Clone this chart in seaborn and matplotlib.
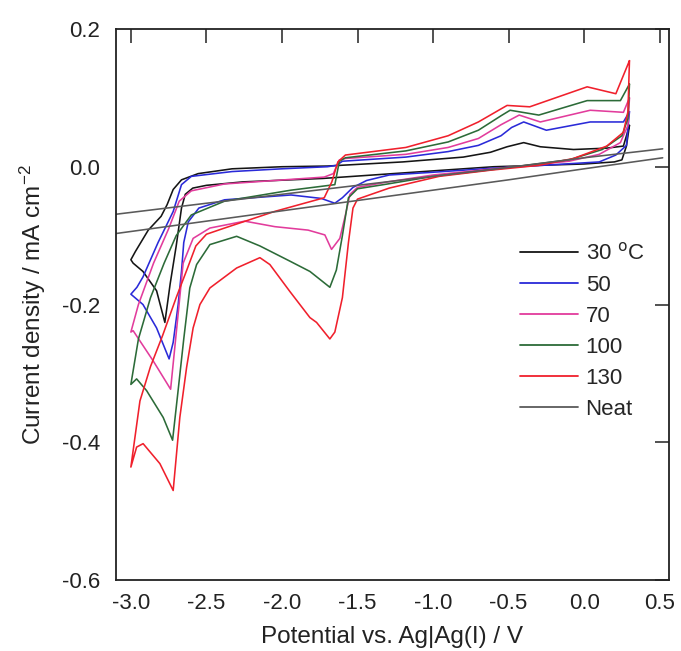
import numpy as np
import pandas as pd
import matplotlib
matplotlib.use("Agg")
import matplotlib.pyplot as plt
from matplotlib.lines import Line2D
import seaborn as sns

# ---------------- data ----------------
series_names = ["30", "50", "70", "100", "130", "Neat"]
legend_labels = ["30 $^{\\rm o}$C", "50", "70", "100", "130", "Neat"]
series_colors = ["#151515", "#2a2ad8", "#e23c9c", "#2c6b38", "#f0202c", "#5a5a5a"]

pot_30 = [0.30, 0.28, 0.25, 0.20, 0.00, -0.60, -1.20, -1.73, -2.26, -2.50, -2.59, -2.64, -2.665, -2.70, -2.74, -2.775,
          -2.83, -2.92, -2.985, -3.00,
          -2.97, -2.885, -2.80, -2.76, -2.72, -2.665, -2.555, -2.33, -2.00, -1.70, -1.20, -0.80, -0.62,
          -0.51, -0.40, -0.29, -0.07, 0.15, 0.26, 0.30]
cur_30 = [0.060, 0.030, 0.010, 0.007, 0.004, 0.000, -0.009, -0.017, -0.022, -0.027, -0.031, -0.040, -0.060, -0.115, -0.170, -0.226,
          -0.180, -0.152, -0.140, -0.135,
          -0.123, -0.092, -0.072, -0.055, -0.033, -0.019, -0.010, -0.003, 0.000, 0.001, 0.007, 0.014, 0.021,
          0.029, 0.035, 0.029, 0.025, 0.027, 0.030, 0.060]

pot_50 = [0.30, 0.28, 0.21, 0.10, -0.20, -0.60, -1.00, -1.29, -1.44, -1.53, -1.60, -1.65, -1.74, -1.94,
          -2.38, -2.55, -2.62, -2.65, -2.665, -2.687, -2.72, -2.747, -2.83, -2.92, -3.00,
          -2.96, -2.92, -2.82, -2.72, -2.665, -2.60, -2.33, -2.00, -1.70, -1.64, -1.60, -1.18, -0.90, -0.70,
          -0.55, -0.48, -0.40, -0.25, 0.04, 0.26, 0.30]
cur_50 = [0.080, 0.031, 0.017, 0.007, 0.003, -0.002, -0.008, -0.012, -0.020, -0.030, -0.045, -0.053, -0.046, -0.041,
          -0.048, -0.060, -0.080, -0.110, -0.152, -0.200, -0.255, -0.279, -0.234, -0.200, -0.185,
          -0.175, -0.160, -0.110, -0.065, -0.026, -0.014, -0.007, -0.003, 0.000, 0.002, 0.008, 0.014, 0.022, 0.031,
          0.045, 0.057, 0.065, 0.053, 0.065, 0.065, 0.080]

pot_70 = [0.30, 0.29, 0.24, 0.10, -0.10, -0.60, -1.00, -1.30, -1.50, -1.55, -1.58, -1.617, -1.672, -1.716,
          -1.827, -2.047, -2.246, -2.477, -2.588, -2.654, -2.69, -2.737, -2.852, -2.985, -3.00,
          -2.95, -2.85, -2.75, -2.68, -2.60, -2.38, -1.72, -1.66, -1.62, -1.58, -1.18, -0.90, -0.70,
          -0.55, -0.43, -0.29, 0.04, 0.26, 0.30]
cur_70 = [0.100, 0.060, 0.035, 0.018, 0.008, -0.003, -0.012, -0.022, -0.030, -0.040, -0.070, -0.104, -0.120, -0.099,
          -0.092, -0.087, -0.079, -0.089, -0.104, -0.140, -0.220, -0.323, -0.282, -0.238, -0.240,
          -0.200, -0.140, -0.090, -0.050, -0.035, -0.025, -0.015, -0.010, 0.010, 0.012, 0.018, 0.028, 0.041,
          0.061, 0.075, 0.065, 0.082, 0.079, 0.100]

pot_100 = [0.30, 0.29, 0.25, 0.12, -0.10, -0.60, -1.00, -1.30, -1.50, -1.56, -1.60, -1.64, -1.683, -1.815,
           -1.948, -2.146, -2.30, -2.477, -2.565, -2.61, -2.65, -2.69, -2.724, -2.786, -2.896, -2.962, -3.00,
           -2.95, -2.87, -2.78, -2.70, -2.60, -2.38, -1.94, -1.65, -1.62, -1.58, -1.18, -0.90, -0.70,
           -0.55, -0.49, -0.30, 0.02, 0.24, 0.30]
cur_100 = [0.120, 0.070, 0.045, 0.025, 0.010, -0.004, -0.014, -0.025, -0.032, -0.045, -0.100, -0.150, -0.175, -0.152,
           -0.137, -0.115, -0.101, -0.113, -0.142, -0.176, -0.250, -0.330, -0.397, -0.364, -0.325, -0.308, -0.316,
           -0.250, -0.190, -0.140, -0.100, -0.070, -0.050, -0.034, -0.026, 0.008, 0.013, 0.023, 0.036, 0.053,
           0.074, 0.082, 0.075, 0.096, 0.096, 0.120]

pot_130 = [0.30, 0.29, 0.26, 0.15, -0.07, -0.30, -0.62, -0.96, -1.29, -1.50, -1.53, -1.56, -1.60, -1.65,
           -1.683, -1.771, -1.815, -1.948, -2.08, -2.146, -2.30, -2.477, -2.543, -2.588, -2.631, -2.676,
           -2.72, -2.808, -2.919, -2.962, -3.00,
           -2.94, -2.87, -2.79, -2.70, -2.63, -2.57, -2.50, -2.38, -2.05, -1.72, -1.67, -1.63, -1.58,
           -1.18, -0.90, -0.70, -0.55, -0.51, -0.36, 0.02, 0.21, 0.30]
cur_130 = [0.154, 0.080, 0.050, 0.030, 0.012, 0.002, -0.005, -0.014, -0.031, -0.047, -0.060, -0.110, -0.190, -0.240,
           -0.250, -0.226, -0.219, -0.181, -0.142, -0.132, -0.147, -0.176, -0.200, -0.234, -0.291, -0.364,
           -0.470, -0.431, -0.402, -0.407, -0.436,
           -0.340, -0.290, -0.245, -0.190, -0.150, -0.115, -0.098, -0.089, -0.065, -0.045, -0.022, 0.007, 0.017,
           0.028, 0.045, 0.065, 0.084, 0.089, 0.087, 0.116, 0.106, 0.154]

neat_pot = [-3.10, -2.50, -2.00, -1.50, -1.00, -0.50, 0.00, 0.52]
neat_up_cur = [-0.069, -0.053, -0.040, -0.027, -0.014, -0.001, 0.013, 0.026]
neat_dn_cur = [-0.097, -0.079, -0.064, -0.049, -0.034, -0.019, -0.003, 0.013]

x_ticks = [-3.0, -2.5, -2.0, -1.5, -1.0, -0.5, 0.0, 0.5]
y_ticks = [-0.6, -0.4, -0.2, 0.0, 0.2]

# ---------------- long-form table ----------------
parts = [
    ("30", "30", pot_30, cur_30),
    ("50", "50", pot_50, cur_50),
    ("70", "70", pot_70, cur_70),
    ("100", "100", pot_100, cur_100),
    ("130", "130", pot_130, cur_130),
    ("Neat", "neat_up", neat_pot, neat_up_cur),
    ("Neat", "neat_dn", neat_pot, neat_dn_cur),
]
frames = []
for s, u, xs, ys in parts:
    frames.append(pd.DataFrame({"E": xs, "j": ys, "series": s, "unit": u}))
df = pd.concat(frames, ignore_index=True)

# ---------------- plot ----------------
sns.set_theme(style="white")
plt.rcParams["font.family"] = ["Liberation Sans", "DejaVu Sans"]
plt.rcParams["mathtext.default"] = "regular"

fig = plt.figure(figsize=(6.81, 6.51), dpi=100)
ax = fig.add_axes([0.170, 0.109, 0.812, 0.8465])

palette = dict(zip(series_names, series_colors))
sns.lineplot(data=df, x="E", y="j", hue="series", units="unit", estimator=None,
             sort=False, palette=palette, hue_order=series_names, legend=False,
             linewidth=1.15, ax=ax)

ax.set_xlim(-3.1, 0.56)
ax.set_ylim(-0.6, 0.2)
ax.set_xticks(x_ticks)
ax.set_yticks(y_ticks)
ax.set_xticklabels([f"{v:.1f}" for v in x_ticks])
ax.set_yticklabels([f"{v:.1f}" for v in y_ticks])
ax.tick_params(direction="in", length=10, width=1.1, top=True, right=True,
               labelsize=16, colors="#222222")
ax.tick_params(axis="y", pad=11)
ax.tick_params(axis="x", pad=9)
for sp in ax.spines.values():
    sp.set_color("#222222")
    sp.set_linewidth(1.3)

ax.set_xlabel("Potential vs. Ag|Ag(I) / V", fontsize=17.5, color="#222222", labelpad=9)
ax.set_ylabel("Current density / mA cm$^{-2}$", fontsize=17.5, color="#222222", labelpad=10)

handles = [Line2D([], [], color=c, lw=1.3) for c in series_colors]
ax.legend(handles, legend_labels, loc="upper left", bbox_to_anchor=(0.715, 0.628),
          frameon=False, fontsize=16, handlelength=2.6, handletextpad=0.35,
          labelspacing=0.45, borderaxespad=0)

fig.savefig("out.png", dpi=100, facecolor="white")
